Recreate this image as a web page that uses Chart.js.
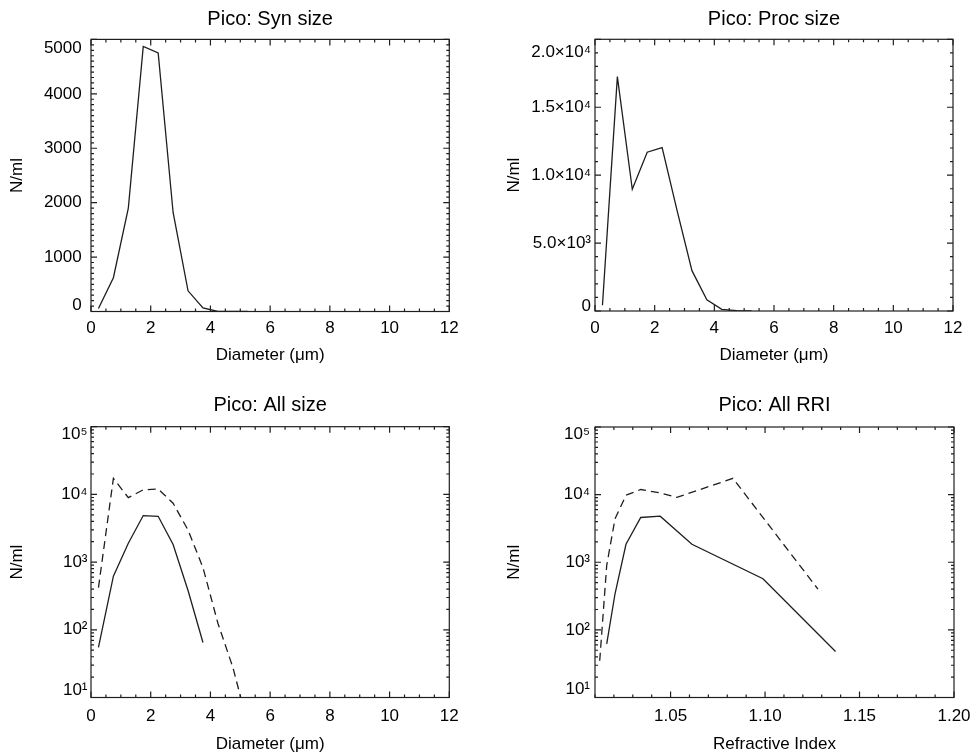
<!DOCTYPE html>
<html><head><meta charset="utf-8">
<script src="https://cdn.jsdelivr.net/npm/chart.js@4.4.1/dist/chart.umd.min.js"></script>
<style>
html,body{margin:0;padding:0;background:#fff;}
body{width:974px;height:755px;position:relative;overflow:hidden;}
canvas{position:absolute;}
</style></head><body>
<canvas id="c1" width="487" height="377" style="left:0;top:0"></canvas>
<canvas id="c2" width="487" height="377" style="left:487px;top:0"></canvas>
<canvas id="c3" width="487" height="378" style="left:0;top:377px"></canvas>
<canvas id="c4" width="487" height="378" style="left:487px;top:377px"></canvas>
<script>
// ---------------- data ----------------
const diameters = [0.25, 0.75, 1.25, 1.75, 2.25, 2.75, 3.25, 3.75, 4.25, 4.75, 5.25];
const synSize   = [55, 620, 1900, 4870, 4750, 1820, 380, 65, 0, 0, 0];
const procSize  = [420, 17250, 8960, 11690, 12030, 7400, 2970, 830, 125, 28, 4];

const synRRIx  = [1.0162, 1.0206, 1.0264, 1.0342, 1.0445, 1.0613, 1.0989, 1.1373];
const synRRI   = [62, 342, 1845, 4590, 4800, 1845, 571, 48];
const procRRIx = [1.0125, 1.0162, 1.0206, 1.0264, 1.0342, 1.0445, 1.0533, 1.083, 1.128];
const procRRI  = [35, 900, 4400, 9800, 11900, 10600, 9100, 17400, 400];

const diameterTicks = [0, 2, 4, 6, 8, 10, 12];
const diameterTickLabels = ['0', '2', '4', '6', '8', '10', '12'];
const synTicks = [0, 1000, 2000, 3000, 4000, 5000];
const synTickLabels = ['0', '1000', '2000', '3000', '4000', '5000'];
const procTicks = [0, 5000, 10000, 15000, 20000];
const procTickLabels = ['0', '5.0×10³', '1.0×10⁴', '1.5×10⁴', '2.0×10⁴'];
const logTicks = [10, 100, 1000, 10000, 100000];
const logTickLabels = ['10¹', '10²', '10³', '10⁴', '10⁵'];
const rriTicks = [1.05, 1.10, 1.15, 1.20];
const rriTickLabels = ['1.05', '1.10', '1.15', '1.20'];

const panelTitles = ['Pico: Syn size', 'Pico: Proc size', 'Pico: All size', 'Pico: All RRI'];
const xTitles = ['Diameter (μm)', 'Diameter (μm)', 'Diameter (μm)', 'Refractive Index'];
const yTitle = 'N/ml';

// ---------------- helpers ----------------
const FAMILY = "'Liberation Sans', Arial, Helvetica, sans-serif";
Chart.defaults.font.family = FAMILY;
Chart.defaults.color = '#000';

function steps(a, b, step) { // tick positions for frame
  const out = []; const n = Math.round((b - a) / step);
  for (let i = 0; i <= n; i++) out.push(+(a + i * step).toFixed(6));
  return out;
}
function logMinor(lo, hi) {
  const out = [];
  for (let d = lo; d < hi; d *= 10) for (let k = 2; k <= 9; k++) out.push(k * d);
  return out;
}
function pts(xs, ys, log) {
  return xs.map((x, i) => ({x: x, y: (log && !(ys[i] > 0)) ? null : ys[i]}));
}

const idlFrame = {
  id: 'idlFrame',
  afterDraw(chart, args, o) {
    const {ctx, chartArea: a} = chart;
    const xs = chart.scales.x, ys = chart.scales.y;
    ctx.save();
    ctx.strokeStyle = '#1e1e1e';
    ctx.lineWidth = 1.2;
    ctx.beginPath();
    const seg = (x1, y1, x2, y2) => { ctx.moveTo(x1, y1); ctx.lineTo(x2, y2); };
    const doX = (vals, len) => vals.forEach(v => {
      const p = xs.getPixelForValue(v);
      if (p < a.left - 0.5 || p > a.right + 0.5) return;
      seg(p, a.bottom, p, a.bottom - len); seg(p, a.top, p, a.top + len);
    });
    const doY = (vals, len) => vals.forEach(v => {
      const p = ys.getPixelForValue(v);
      if (p < a.top - 0.5 || p > a.bottom + 0.5) return;
      seg(a.left, p, a.left + len, p); seg(a.right, p, a.right - len, p);
    });
    doX(o.xMinor, 3); doX(o.xMajor, 6); doY(o.yMinor, 3); doY(o.yMajor, 6);
    ctx.stroke();
    ctx.strokeRect(a.left, a.top, a.right - a.left, a.bottom - a.top);
    ctx.restore();
  }
};

function makeChart(id, g, xc, yc, datasets, title, xTitle) {
  const nY = yc.major.length;
  const yLabelFor = (i) => {
    const lab = yc.labels[i];
    if (i === nY - 1) return ['', lab];
    if (i === 0) return [lab, ''];
    return lab;
  };
  return new Chart(document.getElementById(id), {
    type: 'line',
    data: {datasets: datasets.map(d => Object.assign({
      borderColor: '#1e1e1e', borderWidth: 1.3, pointRadius: 0, fill: false, tension: 0
    }, d))},
    options: {
      responsive: false, animation: false, events: [],
      layout: {padding: {left: 0, top: 0, right: g.W - g.R, bottom: 0}},
      plugins: {
        legend: {display: false}, tooltip: {enabled: false},
        title: {display: true, text: title, fullSize: false, color: '#000',
          font: {size: 20, weight: 'normal', lineHeight: 1.2},
          padding: {top: g.titleMid - 12, bottom: g.T - g.titleMid - 12}},
        idlFrame: {xMajor: xc.major, xMinor: xc.minor, yMajor: yc.major, yMinor: yc.minor}
      },
      scales: {
        x: {
          type: 'linear', min: xc.min, max: xc.max, bounds: 'data',
          grid: {display: false, drawTicks: false}, border: {display: false},
          ticks: {autoSkip: false, maxRotation: 0, padding: g.xLabPad, color: '#000',
            font: {size: 17}, callback: (v, i) => xc.labels[i]},
          afterBuildTicks: s => { s.ticks = xc.major.map(v => ({value: v})); },
          afterFit: s => { s.height = g.H - g.B; s.paddingLeft = 0; s.paddingRight = 0; },
          title: {display: true, text: xTitle, color: '#000', font: {size: 17, lineHeight: 1.2},
            padding: {top: 0, bottom: g.xTitlePad}}
        },
        y: {
          type: yc.type, min: yc.min, max: yc.max, bounds: 'data',
          grid: {display: false, drawTicks: false}, border: {display: false},
          ticks: {autoSkip: false, padding: g.yLabPad, color: '#000',
            callback: (v, i) => yLabelFor(i),
            font: ctx => {
              const i = ctx && typeof ctx.index === 'number' ? ctx.index : -1;
              let lh = 1.2;
              if (i === nY - 1) lh = (2 * g.topShift) + 'px';
              else if (i === 0) lh = (2 * g.botShift) + 'px';
              return {family: FAMILY, size: 17, lineHeight: lh};
            }},
          afterBuildTicks: s => { s.ticks = yc.major.map(v => ({value: v})); },
          afterFit: s => { s.width = g.L; s.paddingTop = 0; s.paddingBottom = 0; },
          title: {display: true, text: yTitle, color: '#000', font: {size: 17, lineHeight: 1.2},
            padding: {top: g.yTitlePad, bottom: 0}}
        }
      }
    },
    plugins: [idlFrame]
  });
}

const dash = [8, 5];
const xDiam = {min: 0, max: 12, major: diameterTicks, minor: steps(0, 12, 0.5), labels: diameterTickLabels};
const xRRI = {min: 1.01, max: 1.20, major: rriTicks, minor: steps(1.01, 1.20, 0.01), labels: rriTickLabels};
const ySyn = {type: 'linear', min: 0, max: 5000, major: synTicks, minor: steps(0, 5000, 100), labels: synTickLabels};
const yProc = {type: 'linear', min: 0, max: 20000, major: procTicks, minor: steps(0, 20000, 1000), labels: procTickLabels};
const yLog = {type: 'logarithmic', min: 10, max: 100000, major: logTicks, minor: logMinor(10, 100000), labels: logTickLabels};

makeChart('c1', {W: 487, H: 377, L: 91, T: 39.4, R: 449.3, B: 311.5, titleMid: 19, xLabPad: 6.8, xTitlePad: 11.3,
  yLabPad: 9.3, yTitlePad: 7.3, topShift: 8.5, botShift: 5.8},
  xDiam, ySyn, [{data: pts(diameters, synSize)}], panelTitles[0], xTitles[0]);

makeChart('c2', {W: 487, H: 377, L: 108, T: 39.3, R: 466, B: 311, titleMid: 19, xLabPad: 6.8, xTitlePad: 11.3,
  yLabPad: 4, yTitlePad: 17.3, topShift: 13, botShift: 4.3},
  xDiam, yProc, [{data: pts(diameters, procSize)}], panelTitles[1], xTitles[1]);

makeChart('c3', {W: 487, H: 378, L: 91, T: 49.7, R: 449.3, B: 320.5, titleMid: 28, xLabPad: 9, xTitlePad: 0.8,
  yLabPad: 3.5, yTitlePad: 7.3, topShift: 7.3, botShift: 7.4},
  xDiam, yLog, [{data: pts(diameters, synSize, true)}, {data: pts(diameters, procSize, true), borderDash: dash}],
  panelTitles[2], xTitles[2]);

makeChart('c4', {W: 487, H: 378, L: 108, T: 50, R: 467, B: 320.5, titleMid: 28, xLabPad: 9, xTitlePad: 0.8,
  yLabPad: 5, yTitlePad: 17.3, topShift: 7.5, botShift: 8},
  xRRI, yLog, [{data: pts(synRRIx, synRRI, true)}, {data: pts(procRRIx, procRRI, true), borderDash: dash}],
  panelTitles[3], xTitles[3]);
</script>
</body></html>
